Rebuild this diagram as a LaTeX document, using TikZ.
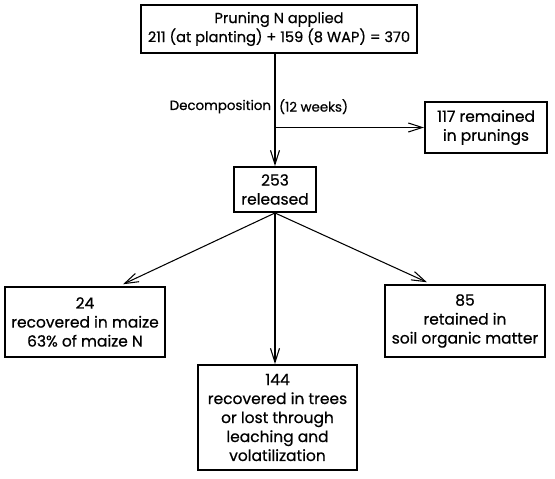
\documentclass[tikz,border=0pt]{standalone}
\usepackage{fontspec}
\setmainfont{Poppins}[FakeBold=0.6]
\usetikzlibrary{arrows.meta}

\begin{document}
\begin{tikzpicture}[nBox/.style={draw, line width=1.1pt, align=center, inner sep=2pt,
        font=\fontsize{8.8}{10.8}\selectfont},
    nArrow/.style={-{Straight Barb[length=2.8mm, width=1.8mm]}, line width=0.6pt},
    nLabel/.style={font=\fontsize{7.6}{9}\selectfont, inner sep=2pt}]
    \useasboundingbox (0, 0) rectangle (11.1, -9.58);

    \node[nBox, minimum width=5.52cm, minimum height=0.96cm, font=\fontsize{8.3}{10.8}\selectfont] (applied) at (5.58, -0.58) {Pruning N applied\\211 (at planting) + 159 (8 WAP) = 370};
    \node[nBox, minimum width=1.64cm, minimum height=0.9cm] (released) at (5.50, -3.79) {253\\released};
    \node[nBox, minimum width=2.44cm, minimum height=1.02cm] (pruned) at (9.72, -2.55) {117 remained\\in prunings};
    \node[nBox, minimum width=3.2cm, minimum height=1.4cm] (maize) at (1.70, -6.44) {24\\recovered in maize\\63\% of maize N};
    \node[nBox, minimum width=3.2cm, minimum height=1.44cm] (som) at (9.30, -6.42) {85\\retained in\\soil organic matter};
    \node[nBox, minimum width=3.18cm, minimum height=2.1cm] (trees) at (5.55, -8.35) {144\\recovered in trees\\or lost through\\leaching and\\volatilization};

    \coordinate (split) at (released.north |- pruned.west);

    \draw[nArrow] (released.north |- applied.south) -- node[nLabel, pos=0.47, left] {Decomposition}
        node[nLabel, pos=0.47, right] {(12 weeks)} (released.north);
    \draw[nArrow] (split) -- (pruned.west);
    \draw[nArrow] (released.south) -- ([xshift=7.6mm, yshift=1pt]maize.north);
    \draw[nArrow] (released.south) -- ([xshift=-7.6mm, yshift=1pt]som.north);
    \draw[nArrow] (released.south) -- (released.south |- trees.north);
\end{tikzpicture}
\end{document}
